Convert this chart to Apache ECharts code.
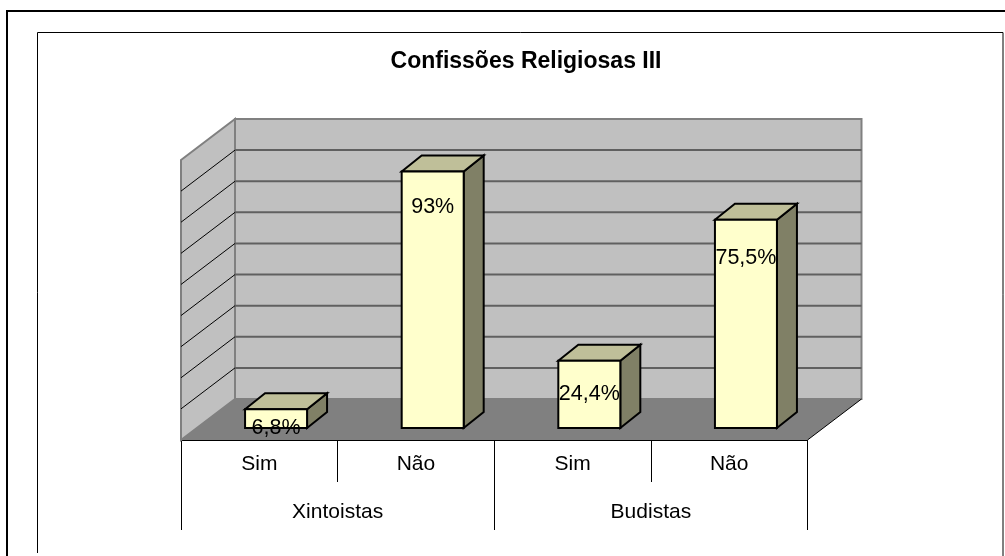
<!DOCTYPE html>
<html>
<head>
<meta charset="utf-8">
<title>Confissões Religiosas III</title>
<script src="https://cdn.jsdelivr.net/npm/echarts@6/dist/echarts.min.js"></script>
<style>
  html, body { margin: 0; padding: 0; background: #fff; }
  #chart { width: 1005px; height: 556px; }
</style>
</head>
<body>
<div id="chart"></div>
<script>
var categories = ['Sim', 'Não', 'Sim', 'Não'];
var groups = ['Xintoistas', 'Budistas'];
var values = [6.8, 93, 24.4, 75.5];
var valueLabels = ['6,8%', '93%', '24,4%', '75,5%'];

// depth of the fake 3d box, in pixels
var wallDx = 54, wallDy = -41;
var barDx = 16.75, barDy = -12;
var sideDx = 20, sideDy = -16;
var barWidth = 62;
var yMax = 101.5, gridSteps = 9;
// how far below the top of the bar each label sits, as in the original
var labelDrop = [18.5, 36, 33, 38];
var font = 'Liberation Sans, Arial, sans-serif';

var myChart = echarts.init(document.getElementById('chart'));

function renderWalls(params, api) {
    var cs = params.coordSys;
    var x0 = cs.x, x1 = cs.x + cs.width;
    var yB = cs.y + cs.height, yT = cs.y;
    var bx0 = x0 + wallDx, bx1 = x1 + wallDx;
    var children = [
        { type: 'polygon', shape: { points: [[bx0, yT + wallDy], [bx1, yT + wallDy], [bx1, yB + wallDy], [bx0, yB + wallDy]] },
          style: { fill: '#c0c0c0', stroke: '#808080', lineWidth: 2 } },
        { type: 'polygon', shape: { points: [[x0, yT], [bx0, yT + wallDy], [bx0, yB + wallDy], [x0, yB]] },
          style: { fill: '#c0c0c0', stroke: '#808080', lineWidth: 2 } }
    ];
    for (var i = 1; i < gridSteps; i++) {
        var y = api.coord([0, yMax / gridSteps * i])[1];
        children.push({ type: 'line', shape: { x1: bx0, y1: y + wallDy, x2: bx1, y2: y + wallDy },
            style: { stroke: '#606060', lineWidth: 2 } });
        children.push({ type: 'line', shape: { x1: x0, y1: y, x2: bx0, y2: y + wallDy },
            style: { stroke: '#000', lineWidth: 1 } });
    }
    children.push({ type: 'polygon', shape: { points: [[x0, yB], [bx0, yB + wallDy], [bx1, yB + wallDy], [x1, yB]] },
        style: { fill: '#808080' } });
    children.push({ type: 'line', shape: { x1: x1, y1: yB, x2: bx1, y2: yB + wallDy },
        style: { stroke: '#000', lineWidth: 1 } });
    return { type: 'group', children: children };
}

function renderBar(params, api) {
    var i = api.value(0);
    var top = api.coord([i, api.value(1)]);
    var base = api.coord([i, 0]);
    var x0 = top[0] + barDx - barWidth / 2, x1 = x0 + barWidth;
    var yT = top[1] + barDy, yB = base[1] + barDy;
    var line = { stroke: '#000', lineWidth: 2, lineJoin: 'miter' };
    return {
        type: 'group',
        children: [
            { type: 'polygon', shape: { points: [[x1, yT], [x1 + sideDx, yT + sideDy], [x1 + sideDx, yB + sideDy], [x1, yB]] },
              style: Object.assign({ fill: '#808066' }, line) },
            { type: 'polygon', shape: { points: [[x0, yT], [x0 + sideDx, yT + sideDy], [x1 + sideDx, yT + sideDy], [x1, yT]] },
              style: Object.assign({ fill: '#bfbf99' }, line) },
            { type: 'rect', shape: { x: x0, y: yT, width: barWidth, height: yB - yT },
              style: Object.assign({ fill: '#ffffcc' }, line) },
            { type: 'text', z2: 10, x: (x0 + x1) / 2, y: yT + labelDrop[i],
              style: { text: valueLabels[i], fill: '#000', font: '21.5px ' + font, align: 'center', verticalAlign: 'middle' } }
        ]
    };
}

var barData = values.map(function (v, i) { return [i, v]; });

var option = {
    animation: false,
    backgroundColor: '#fff',
    title: {
        text: 'Confissões Religiosas III',
        left: 521,
        top: 45,
        textAlign: 'center',
        textStyle: { fontFamily: font, fontSize: 23, fontWeight: 'bold', color: '#000' }
    },
    grid: { left: 181, top: 160, width: 626.5, height: 280 },
    xAxis: [
        {
            type: 'category',
            data: categories,
            axisLine: { show: true, lineStyle: { color: '#000', width: 1 } },
            axisTick: { show: true, length: 42, interval: 0, lineStyle: { color: '#000' } },
            axisLabel: { interval: 0, color: '#000', fontFamily: font, fontSize: 21, margin: 14 }
        },
        {
            type: 'category',
            position: 'bottom',
            data: groups,
            axisLine: { show: false },
            axisTick: { show: true, length: 90, interval: 0, lineStyle: { color: '#000' } },
            axisLabel: { interval: 0, color: '#000', fontFamily: font, fontSize: 21, margin: 62 }
        }
    ],
    yAxis: {
        type: 'value',
        min: 0,
        max: yMax,
        interval: yMax / gridSteps,
        show: false
    },
    graphic: [
        { type: 'polyline', silent: true, z: -1, shape: { points: [[7, 556], [7, 11], [1005, 11]] },
          style: { fill: 'none', stroke: '#000', lineWidth: 2 } },
        { type: 'polyline', silent: true, z: -1, shape: { points: [[37.5, 553], [37.5, 32.5], [1003, 32.5], [1003, 556]] },
          style: { fill: 'none', stroke: '#000', lineWidth: 1 } }
    ],
    series: [
        { type: 'custom', silent: true, renderItem: renderWalls, data: [[0, 0]], z: 1 },
        { type: 'custom', silent: true, renderItem: renderBar, data: barData, z: 2,
          encode: { x: 0, y: 1 } }
    ]
};

myChart.setOption(option);
</script>
</body>
</html>
